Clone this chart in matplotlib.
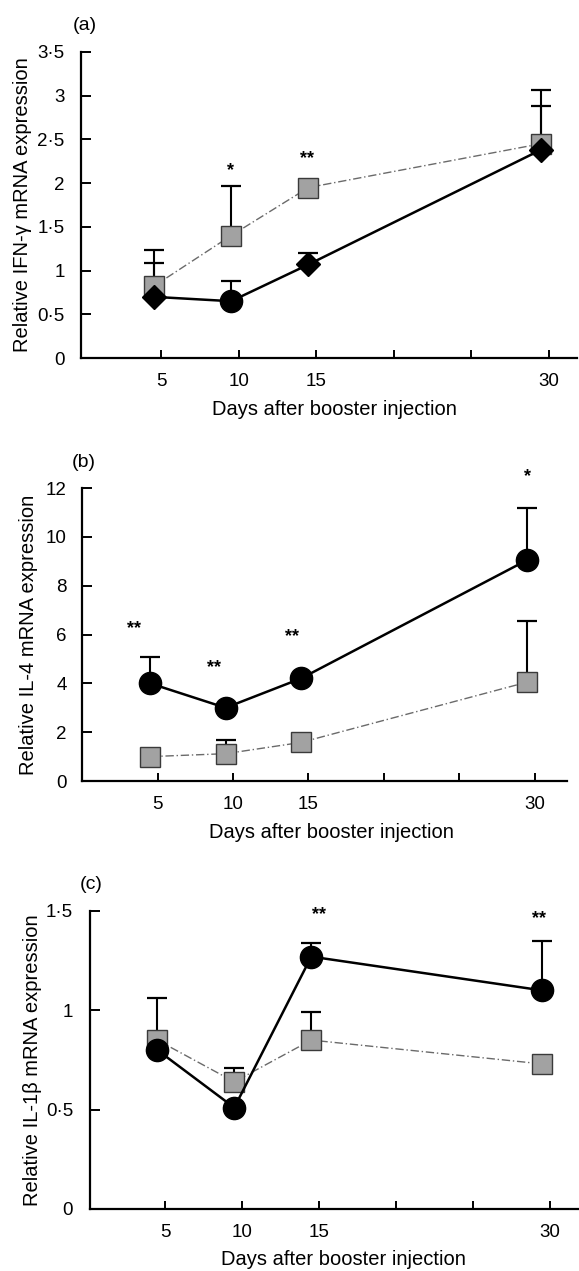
import matplotlib.pyplot as plt

# ============================================================
# Data
# ============================================================
DAYS = [5, 10, 15, 30]
TICK_LABELS = ["5", "10", "15", "", "", "30"]
TICK_POS = [1, 2, 3, 4, 5, 6]
DAY_POS = [1, 2, 3, 6]  # tick slot of each sampled day

# (a) IFN-gamma
ifn_solid = [0.70, 0.65, 1.07, 2.38]
ifn_solid_up = [1.09, 0.88, 1.20, 2.88]
ifn_solid_markers = ["D", "o", "D", "D"]
ifn_gray = [0.82, 1.40, 1.95, 2.45]
ifn_gray_up = [1.24, 1.97, None, 3.06]
ifn_sig_x = [1.89, 2.88]
ifn_sig_y = [2.14, 2.28]
ifn_sig = ["*", "**"]
ifn_yticks = [0, 0.5, 1, 1.5, 2, 2.5, 3, 3.5]
ifn_ylabels = ["0", "0·5", "1", "1·5", "2", "2·5", "3", "3·5"]

# (b) IL-4
il4_solid = [4.0, 3.0, 4.2, 9.05]
il4_solid_up = [5.08, None, None, 11.2]
il4_gray = [1.0, 1.12, 1.58, 4.05]
il4_gray_up = [None, 1.68, None, 6.55]
il4_sig_x = [0.69, 1.75, 2.78, 5.91]
il4_sig_y = [6.23, 4.63, 5.9, 12.46]
il4_sig = ["**", "**", "**", "*"]
il4_yticks = [0, 2, 4, 6, 8, 10, 12]
il4_ylabels = ["0", "2", "4", "6", "8", "10", "12"]

# (c) IL-1beta
il1_solid = [0.80, 0.51, 1.27, 1.10]
il1_solid_up = [None, None, 1.34, 1.35]
il1_gray = [0.85, 0.64, 0.85, 0.73]
il1_gray_up = [1.06, 0.71, 0.99, None]
il1_sig_x = [3.0, 5.86]
il1_sig_y = [1.48, 1.46]
il1_sig = ["**", "**"]
il1_yticks = [0, 0.5, 1, 1.5]
il1_ylabels = ["0", "0·5", "1", "1·5"]

# ============================================================
# Style
# ============================================================
plt.rcParams["font.family"] = ["Liberation Sans", "DejaVu Sans"]
TICK_FS = 13.5
LABEL_FS = 14.5
X_SHIFT = -0.1  # points sit a little left of the tick marks
GRAY_FACE = "#a2a2a2"
GRAY_EDGE = "#3a3a3a"


def upper_bars(ax, xs, up, means):
    for x, u, m in zip(xs, up, means):
        if u is None:
            continue
        ax.vlines(x, m, u, color="black", lw=1.5, zorder=2)
        ax.plot([x], [u], marker="_", ms=15, mew=1.6, color="black", zorder=2)


def draw_panel(ax, solid, solid_up, gray, gray_up, sig_x, sig_y, sig,
               yticks, ylabels, ylabel, solid_markers=None):
    xs = [p + X_SHIFT for p in DAY_POS]

    upper_bars(ax, xs, gray_up, gray)
    upper_bars(ax, xs, solid_up, solid)

    # gray dash-dot series
    ax.plot(xs, gray, color="#6a6a6a", lw=1.0, ls=(0, (6, 2, 1, 2)), zorder=3)
    ax.plot(xs, gray, ls="none", marker="s", ms=15, mfc=GRAY_FACE,
            mec=GRAY_EDGE, mew=1.0, zorder=4)

    # black solid series
    ax.plot(xs, solid, color="black", lw=1.8, zorder=5)
    if solid_markers is None:
        solid_markers = ["o"] * len(solid)
    for x, y, m in zip(xs, solid, solid_markers):
        ax.plot([x], [y], marker=m, ms=12.5 if m == "D" else 16,
                color="black", ls="none", zorder=6)

    for x, y, s in zip(sig_x, sig_y, sig):
        ax.text(x, y, s, ha="center", va="center", fontsize=13,
                fontweight="bold")

    ax.set_xticks(TICK_POS)
    ax.set_xticklabels(TICK_LABELS)
    ax.set_yticks(yticks)
    ax.set_yticklabels(ylabels)
    ax.set_ylim(yticks[0], yticks[-1])
    ax.spines["top"].set_visible(False)
    ax.spines["right"].set_visible(False)
    for sp in ["left", "bottom"]:
        ax.spines[sp].set_linewidth(1.6)
    ax.tick_params(axis="both", direction="in", width=1.4, labelsize=TICK_FS)
    ax.tick_params(axis="y", length=7)
    ax.tick_params(axis="x", length=6, pad=11)
    ax.set_ylabel(ylabel, fontsize=LABEL_FS)
    ax.set_xlabel("Days after booster injection", fontsize=LABEL_FS)


# ============================================================
# Figure: three stacked panels
# ============================================================
fig = plt.figure(figsize=(5.79, 12.71), dpi=100)

ax_a = fig.add_axes([0.1402, 0.7183, 0.8566, 0.2408])
draw_panel(ax_a, ifn_solid, ifn_solid_up, ifn_gray, ifn_gray_up,
           ifn_sig_x, ifn_sig_y, ifn_sig, ifn_yticks, ifn_ylabels,
           "Relative IFN-γ mRNA expression", ifn_solid_markers)
ax_a.set_xlim(-0.036, 6.37)
ax_a.tick_params(axis="y", pad=12)
ax_a.xaxis.set_label_coords(0.51, -0.136)
ax_a.yaxis.set_label_coords(-0.10, 0.5)

ax_b = fig.add_axes([0.1416, 0.3855, 0.8377, 0.2305])
draw_panel(ax_b, il4_solid, il4_solid_up, il4_gray, il4_gray_up,
           il4_sig_x, il4_sig_y, il4_sig, il4_yticks, il4_ylabels,
           "Relative IL-4 mRNA expression")
ax_b.set_xlim(-0.005, 6.43)
ax_b.tick_params(axis="y", pad=11)
ax_b.xaxis.set_label_coords(0.515, -0.142)
ax_b.yaxis.set_label_coords(-0.09, 0.5)

ax_c = fig.add_axes([0.1549, 0.0488, 0.8428, 0.2345])
draw_panel(ax_c, il1_solid, il1_solid_up, il1_gray, il1_gray_up,
           il1_sig_x, il1_sig_y, il1_sig, il1_yticks, il1_ylabels,
           "Relative IL-1β mRNA expression")
ax_c.set_xlim(0.022, 6.36)
ax_c.tick_params(axis="y", pad=12)
ax_c.xaxis.set_label_coords(0.52, -0.139)
ax_c.yaxis.set_label_coords(-0.098, 0.5)

fig.text(0.146, 0.980, "(a)", ha="center", va="center", fontsize=14)
fig.text(0.145, 0.636, "(b)", ha="center", va="center", fontsize=14)
fig.text(0.158, 0.304, "(c)", ha="center", va="center", fontsize=14)

plt.savefig("out.png", dpi=100)
